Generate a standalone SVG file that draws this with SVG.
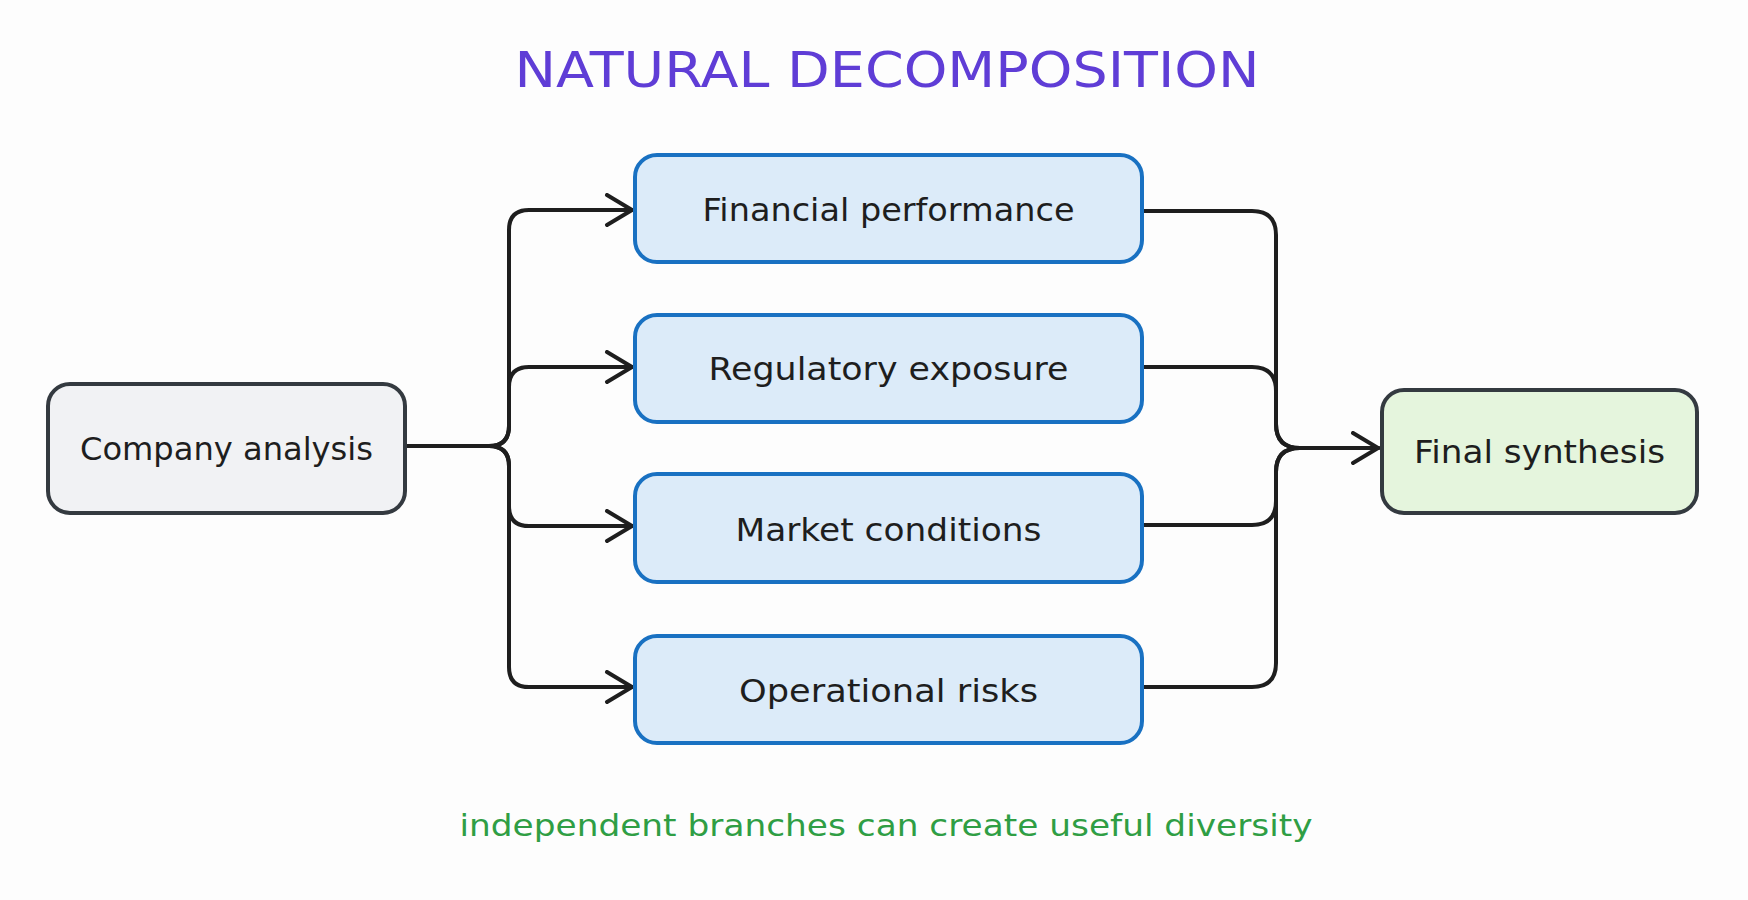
<svg xmlns="http://www.w3.org/2000/svg" width="1748" height="900" viewBox="0 0 1748 900">
  <defs>
    <style>
      .lbl { font-family: "DejaVu Sans", "Liberation Sans", sans-serif; font-size: 32px; fill: #1e1e1e; text-anchor: middle; }
      .box-blue { fill: #dcebf9; stroke: #1971c2; stroke-width: 4; }
      .box-gray { fill: #f1f2f4; stroke: #343a40; stroke-width: 4; }
      .box-green { fill: #e5f5dd; stroke: #343a40; stroke-width: 4; }
      .conn { fill: none; stroke: #1e1e1e; stroke-width: 4; stroke-linecap: round; stroke-linejoin: round; }
    </style>
    <marker id="arrow" viewBox="0 0 30 34" refX="28" refY="17" markerWidth="30" markerHeight="34" markerUnits="userSpaceOnUse" orient="auto">
      <polyline points="3,2 28,17 3,32" fill="none" stroke="#1e1e1e" stroke-width="4" stroke-linecap="round" stroke-linejoin="round"/>
    </marker>
  </defs>
  <rect x="0" y="0" width="1748" height="900" fill="#fdfdfd"/>

  <text id="title" x="887" y="87" font-family="DejaVu Sans, Liberation Sans, sans-serif" font-size="50" fill="#5f3dd6" text-anchor="middle" textLength="745" lengthAdjust="spacingAndGlyphs">NATURAL DECOMPOSITION</text>

  <g id="connectors">
    <path class="conn" d="M405,446 H489 Q509,446 509,426 V230 Q509,210 529,210 H632" marker-end="url(#arrow)"/>
    <path class="conn" d="M405,446 H489 Q509,446 509,426 V387 Q509,367 529,367 H632" marker-end="url(#arrow)"/>
    <path class="conn" d="M405,446 H489 Q509,446 509,466 V506 Q509,526 529,526 H632" marker-end="url(#arrow)"/>
    <path class="conn" d="M405,446 H489 Q509,446 509,466 V667 Q509,687 529,687 H632" marker-end="url(#arrow)"/>
    <path class="conn" d="M1144,211 H1252 Q1276,211 1276,235 V424 Q1276,448 1300,448 H1378"/>
    <path class="conn" d="M1144,367 H1252 Q1276,367 1276,391 V424 Q1276,448 1300,448 H1378"/>
    <path class="conn" d="M1144,525 H1252 Q1276,525 1276,501 V472 Q1276,448 1300,448 H1378"/>
    <path class="conn" d="M1144,687 H1252 Q1276,687 1276,663 V472 Q1276,448 1300,448 H1378" marker-end="url(#arrow)"/>
  </g>

  <g id="company-analysis">
    <rect class="box-gray" x="48" y="384" width="357" height="129" rx="22"/>
    <text class="lbl" x="226.5" y="460" textLength="293" lengthAdjust="spacingAndGlyphs">Company analysis</text>
  </g>

  <g id="financial-performance">
    <rect class="box-blue" x="635" y="155" width="507" height="107" rx="22"/>
    <text class="lbl" x="888.5" y="221" textLength="372" lengthAdjust="spacingAndGlyphs">Financial performance</text>
  </g>

  <g id="regulatory-exposure">
    <rect class="box-blue" x="635" y="315" width="507" height="107" rx="22"/>
    <text class="lbl" x="888.5" y="380" textLength="360" lengthAdjust="spacingAndGlyphs">Regulatory exposure</text>
  </g>

  <g id="market-conditions">
    <rect class="box-blue" x="635" y="474" width="507" height="108" rx="22"/>
    <text class="lbl" x="888.5" y="541" textLength="306" lengthAdjust="spacingAndGlyphs">Market conditions</text>
  </g>

  <g id="operational-risks">
    <rect class="box-blue" x="635" y="636" width="507" height="107" rx="22"/>
    <text class="lbl" x="888.5" y="702" textLength="299" lengthAdjust="spacingAndGlyphs">Operational risks</text>
  </g>

  <g id="final-synthesis">
    <rect class="box-green" x="1382" y="390" width="315" height="123" rx="22"/>
    <text class="lbl" x="1539.5" y="463" textLength="251" lengthAdjust="spacingAndGlyphs">Final synthesis</text>
  </g>

  <text id="footer" x="886" y="836" font-family="DejaVu Sans, Liberation Sans, sans-serif" font-size="30" fill="#2f9e44" text-anchor="middle" textLength="853" lengthAdjust="spacingAndGlyphs">independent branches can create useful diversity</text>
</svg>
